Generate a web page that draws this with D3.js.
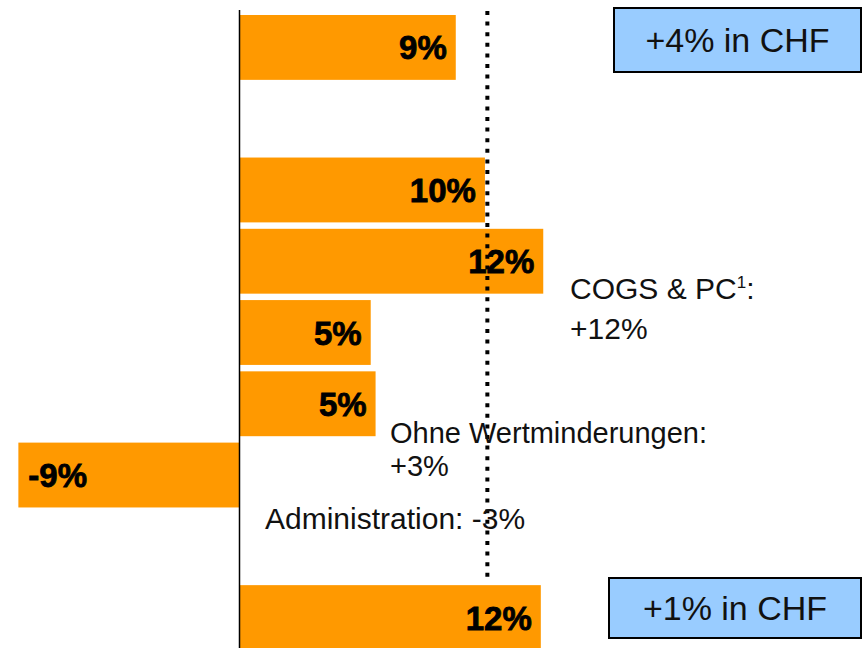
<!DOCTYPE html>
<html>
<head>
<meta charset="utf-8">
<script src="https://cdn.jsdelivr.net/npm/d3@7"></script>
<style>
  body { margin: 0; background: #fff; }
</style>
</head>
<body>
<div id="container"></div>
<script>
let w = 865;
let h = 648;

// rows top to bottom, empty rows hold the text notes
let rows = ["r1", "gap1", "r2", "r3", "r4", "r5", "r6", "gap2", "r7"];
let values = [8.9, null, 10.1, 12.5, 5.4, 5.6, -9.1, null, 12.4];
let labels = ["9%", "", "10%", "12%", "5%", "5%", "-9%", "", "12%"];
let refValue = 10.2;

let boxTexts = ["+4% in CHF", "+1% in CHF"];
let notes = [
  { lines: ["COGS & PC", "+12%"], sup: "1", x: 570, y: 299, lh: 40, fs: 30 },
  { lines: ["Ohne Wertminderungen:", "+3%"], x: 390, y: 443, lh: 33, fs: 29 },
  { lines: ["Administration: -3%"], x: 265, y: 529, lh: 0, fs: 30 }
];

let viz = d3.select("#container")
  .append("svg")
    .attr("width", w)
    .attr("height", h)
    .style("background-color", "white");

let xScale = d3.scaleLinear().domain([0, 10]).range([239.5, 482.5]);
let yScale = d3.scaleBand().domain(rows).range([15, 650]).paddingInner(0.09).paddingOuter(0);

let data = rows.map((r, i) => ({ row: r, value: values[i], label: labels[i] }))
  .filter(d => d.value !== null);

// bars
viz.selectAll(".bar").data(data).enter()
  .append("rect")
    .attr("class", "bar")
    .attr("x", d => xScale(Math.min(0, d.value)))
    .attr("y", d => yScale(d.row))
    .attr("width", d => Math.abs(xScale(d.value) - xScale(0)))
    .attr("height", yScale.bandwidth())
    .attr("fill", "#FF9900");

// value labels inside bars
viz.selectAll(".val").data(data).enter()
  .append("text")
    .attr("class", "val")
    .attr("x", d => d.value < 0 ? xScale(d.value) + 10 : xScale(d.value) - 9)
    .attr("y", d => yScale(d.row) + yScale.bandwidth() / 2 + 12)
    .attr("text-anchor", d => d.value < 0 ? "start" : "end")
    .style("font-family", "'Liberation Sans', Arial, sans-serif")
    .style("font-weight", "bold")
    .style("font-size", "33px")
    .attr("fill", "black")
    .attr("stroke", "black")
    .attr("stroke-width", 0.8)
    .text(d => d.label);

// zero line
viz.append("line")
  .attr("x1", xScale(0)).attr("x2", xScale(0))
  .attr("y1", 10).attr("y2", h)
  .attr("stroke", "black")
  .attr("stroke-width", 1.5);

// dotted reference line
viz.append("line")
  .attr("x1", xScale(refValue)).attr("x2", xScale(refValue))
  .attr("y1", 11).attr("y2", 583)
  .attr("stroke", "black")
  .attr("stroke-width", 4)
  .attr("stroke-dasharray", "4,6.6");

// notes
notes.forEach(n => {
  n.lines.forEach((line, i) => {
    let t = viz.append("text")
      .attr("x", n.x)
      .attr("y", n.y + i * n.lh)
      .style("font-family", "'Liberation Sans', Arial, sans-serif")
      .style("font-size", n.fs + "px")
      .attr("fill", "#111")
      .text(line);
    if (i === 0 && n.sup) {
      t.append("tspan").attr("dy", -11).style("font-size", "17px").text(n.sup);
      t.append("tspan").attr("dy", 11).text(":");
    }
  });
});

// CHF boxes
let boxes = [
  { text: boxTexts[0], x: 614, y: 8, w: 247, h: 64 },
  { text: boxTexts[1], x: 609, y: 578, w: 252, h: 60 }
];
let bg = viz.selectAll(".box").data(boxes).enter()
  .append("g").attr("class", "box");
bg.append("rect")
  .attr("x", d => d.x).attr("y", d => d.y)
  .attr("width", d => d.w).attr("height", d => d.h)
  .attr("fill", "#99CCFF")
  .attr("stroke", "black")
  .attr("stroke-width", 2);
bg.append("text")
  .attr("x", d => d.x + d.w / 2)
  .attr("y", d => d.y + d.h / 2 + 12)
  .attr("text-anchor", "middle")
  .style("font-family", "'Liberation Sans', Arial, sans-serif")
  .style("font-size", "34px")
  .attr("fill", "#111")
  .text(d => d.text);
</script>
</body>
</html>
